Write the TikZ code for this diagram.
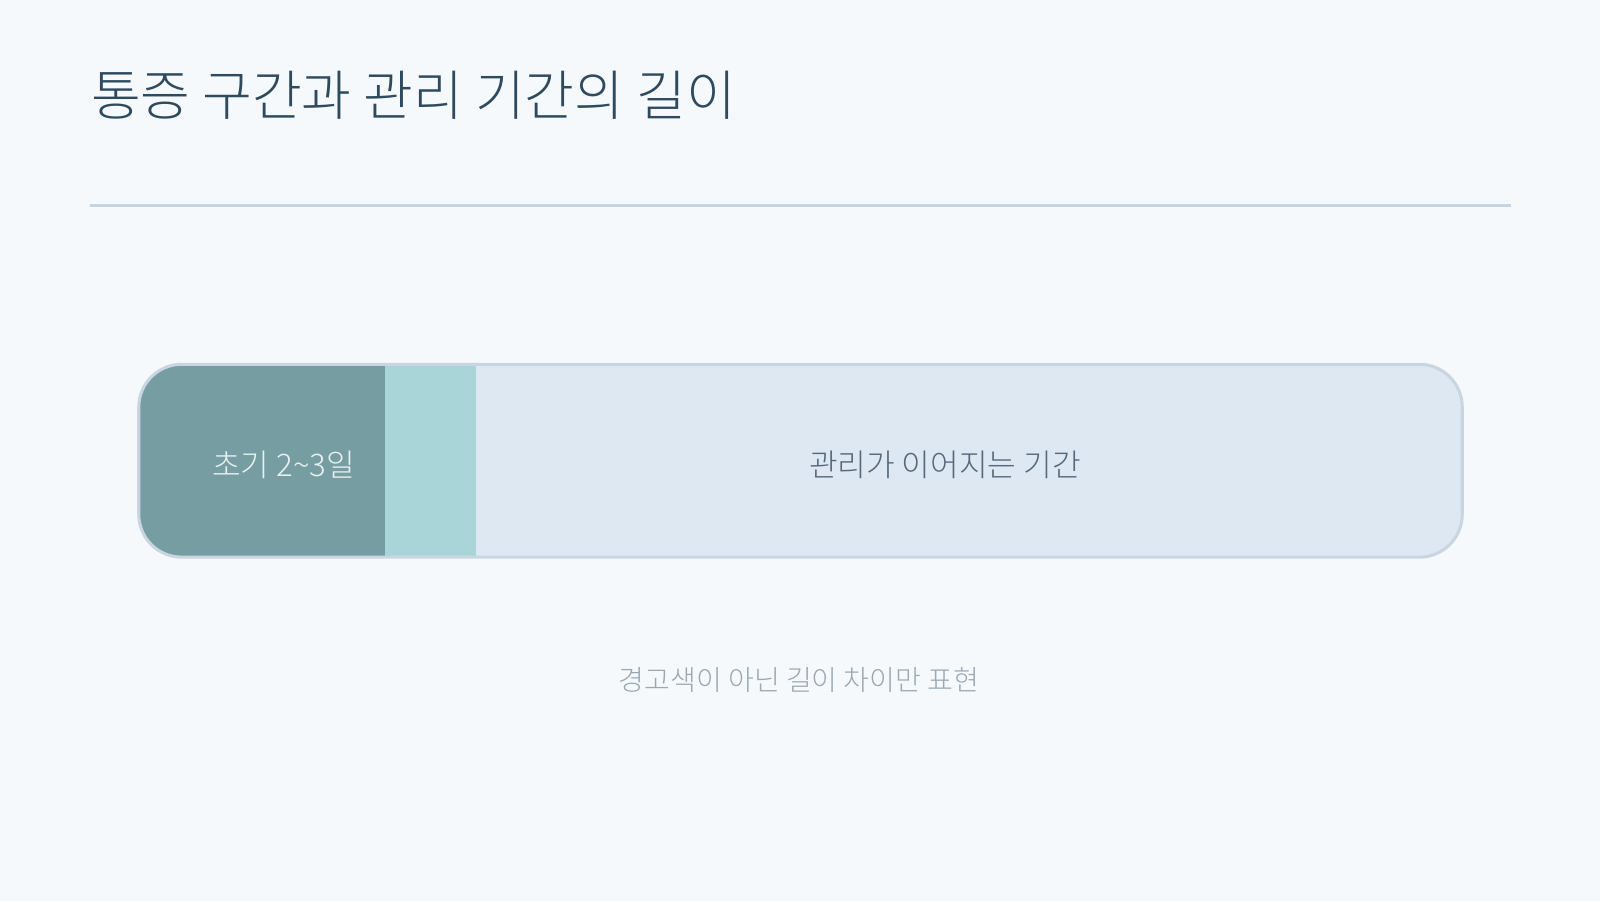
\documentclass[tikz,border=0pt]{standalone}
\usepackage{fontspec}
\newfontfamily\cjk{Noto Sans CJK KR Light}
\definecolor{bg}{HTML}{F6F9FB}
\definecolor{titlec}{HTML}{2E4A5E}
\definecolor{rulec}{HTML}{C6D5E2}
\definecolor{darkseg}{HTML}{769EA2}
\definecolor{midseg}{HTML}{A9D5D8}
\definecolor{lightseg}{HTML}{DDE8F3}
\definecolor{barborder}{HTML}{C9D6E2}
\definecolor{labeldark}{HTML}{56687A}
\definecolor{labellight}{HTML}{E8F0F1}
\definecolor{capc}{HTML}{9AA8B5}
\tikzset{
  titletext/.style={font=\cjk\fontsize{53}{60}\selectfont, text=titlec, inner sep=0pt},
  bartext/.style={font=\cjk\fontsize{30.5}{34}\selectfont, inner sep=0pt},
  captext/.style={font=\cjk\fontsize{27.5}{32}\selectfont, text=capc, inner sep=0pt}
}
\begin{document}
\begin{tikzpicture}[x=1pt,y=-1pt]
\useasboundingbox (0,0) rectangle (1568,883);
\fill[bg] (0,0) rectangle (1568,883);
\node[titletext, anchor=west] (title) at (89,93) {통증 구간과 관리 기간의 길이};
\draw[rulec, line width=3pt] (88,201) coordinate (r1) -- (1481,201) coordinate (r2);
\begin{scope}
  \clip[rounded corners=42pt] (136,357) rectangle (1433,546);
  \fill[lightseg] (136,357) rectangle (1433,546);
  \fill[darkseg] (136,357) rectangle (377,546);
  \fill[midseg] (377,357) rectangle (466,546);
\end{scope}
\draw[barborder, line width=3pt, rounded corners=42pt] (136,357) rectangle (1433,546);
\node[bartext, text=labellight] (early) at (278,456) {초기 2{\char"7E}3일};
\node[bartext, text=labeldark] (care) at (926,456) {관리가 이어지는 기간};
\node[captext] (cap) at (783,666) {경고색이 아닌 길이 차이만 표현};
\end{tikzpicture}
\end{document}
